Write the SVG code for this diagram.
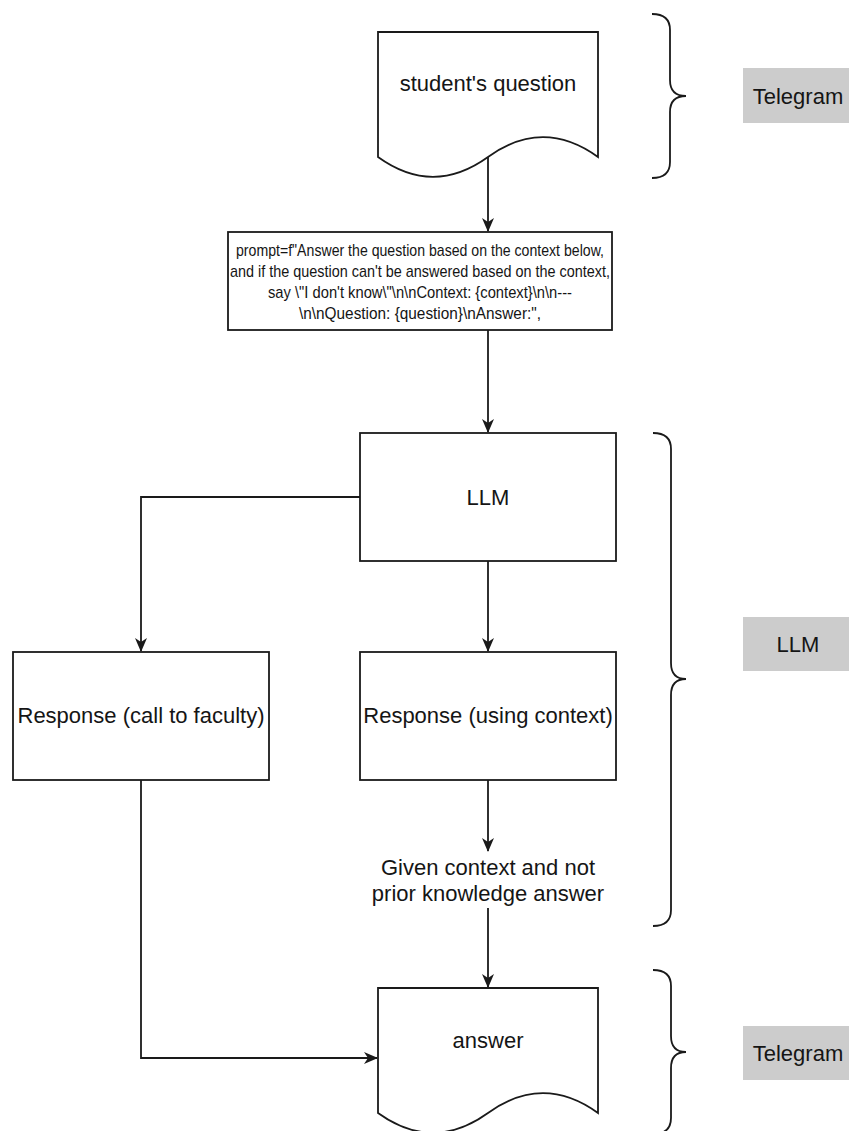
<svg xmlns="http://www.w3.org/2000/svg" width="849" height="1131" viewBox="0 0 849 1131">
<defs>
<marker id="arr" viewBox="0 0 14 14" refX="13" refY="7" markerWidth="14" markerHeight="14" markerUnits="userSpaceOnUse" orient="auto">
<path d="M0,1 L14,7 L0,13 L4,7 Z" fill="#1a1a1a"/>
</marker>
<style>
.shape{fill:#fff;stroke:#1a1a1a;stroke-width:1.8}
.conn{fill:none;stroke:#1a1a1a;stroke-width:1.8}
.brace{fill:none;stroke:#1a1a1a;stroke-width:1.8}
.lbl{fill:#cccccc;stroke:none}
text{font-family:"Liberation Sans",Arial,sans-serif;fill:#151515;text-anchor:middle;dominant-baseline:central}
.t{font-size:22px}
.p{font-size:17px}
</style>
</defs>
<rect width="849" height="1131" fill="#fff"/>

<g id="connectors">
<path class="conn" d="M488,157 V231" marker-end="url(#arr)"/>
<path class="conn" d="M488,330 V432" marker-end="url(#arr)"/>
<path class="conn" d="M488,561 V651" marker-end="url(#arr)"/>
<path class="conn" d="M360,497 H141 V651" marker-end="url(#arr)"/>
<path class="conn" d="M488,780 V851" marker-end="url(#arr)"/>
<path class="conn" d="M488,908 V987" marker-end="url(#arr)"/>
<path class="conn" d="M141,780 V1058 H377" marker-end="url(#arr)"/>
</g>

<g id="student-question">
<path class="shape" d="M378,32 H598 V157 Q543,117.3 488,157 Q433,196.6 378,157 Z"/>
<text class="t" x="488" y="83">student's question</text>
</g>

<g id="prompt">
<rect class="shape" x="228" y="232" width="384" height="98"/>
<text class="p" x="420" y="250" textLength="368" lengthAdjust="spacingAndGlyphs">prompt=f"Answer the question based on the context below,</text>
<text class="p" x="420" y="271" textLength="380" lengthAdjust="spacingAndGlyphs">and if the question can't be answered based on the context,</text>
<text class="p" x="420" y="292" textLength="304" lengthAdjust="spacingAndGlyphs">say \"I don't know\"\n\nContext: {context}\n\n---</text>
<text class="p" x="420" y="313" textLength="242" lengthAdjust="spacingAndGlyphs">\n\nQuestion: {question}\nAnswer:",</text>
</g>

<g id="llm">
<rect class="shape" x="360" y="433" width="256" height="128"/>
<text class="t" x="488" y="497">LLM</text>
</g>

<g id="response-faculty">
<rect class="shape" x="13" y="652" width="256" height="128"/>
<text class="t" x="141" y="715">Response (call to faculty)</text>
</g>

<g id="response-context">
<rect class="shape" x="360" y="652" width="256" height="128"/>
<text class="t" x="488" y="715">Response (using context)</text>
</g>

<g id="given-context">
<text class="t" x="488" y="867">Given context and not</text>
<text class="t" x="488" y="893">prior knowledge answer</text>
</g>

<g id="answer">
<path class="shape" d="M378,988 H598 V1113 Q543,1073.3 488,1113 Q433,1152.6 378,1113 Z"/>
<text class="t" x="488" y="1040">answer</text>
</g>

<g id="brace-telegram-top">
<path class="brace" d="M652,14 Q670,14 670,30 V80 Q670,96 686,96 Q670,96 670,112 V162 Q670,178 652,178"/>
</g>
<g id="brace-llm">
<path class="brace" d="M653,433 Q671,433 671,449 V663 Q671,679 686,679 Q671,679 671,695 V910 Q671,926 653,926"/>
</g>
<g id="brace-telegram-bottom">
<path class="brace" d="M653,970 Q671,970 671,986 V1036 Q671,1052 686,1052 Q671,1052 671,1068 V1118 Q671,1134 653,1134"/>
</g>

<g id="label-telegram-top">
<rect class="lbl" x="743" y="68" width="110" height="55"/>
<text class="t" x="798" y="96">Telegram</text>
</g>
<g id="label-llm">
<rect class="lbl" x="743" y="617" width="110" height="54"/>
<text class="t" x="798" y="644">LLM</text>
</g>
<g id="label-telegram-bottom">
<rect class="lbl" x="743" y="1026" width="110" height="54"/>
<text class="t" x="798" y="1053">Telegram</text>
</g>
</svg>
